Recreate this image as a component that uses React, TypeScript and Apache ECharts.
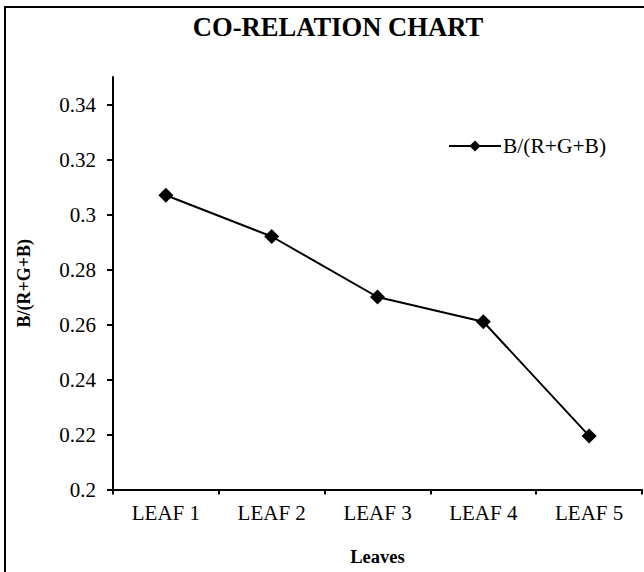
import React, { useEffect, useRef } from "react";
import * as echarts from "echarts";

const categories = ["LEAF 1", "LEAF 2", "LEAF 3", "LEAF 4", "LEAF 5"];
const seriesName = "B/(R+G+B)";
const values = [0.307, 0.292, 0.270, 0.261, 0.2195];
const yTicks = [0.2, 0.22, 0.24, 0.26, 0.28, 0.3, 0.32, 0.34];
const chartTitle = "CO-RELATION CHART";
const xAxisName = "Leaves";
const yAxisName = "B/(R+G+B)";

const FONT = "Liberation Serif";

export default function App() {
  const ref = useRef<HTMLDivElement>(null);
  useEffect(() => {
    if (!ref.current) return;
    const chart = echarts.init(ref.current, null, { renderer: "svg" });
    chart.setOption({
      animation: false,
      backgroundColor: "#ffffff",
      textStyle: { fontFamily: FONT, color: "#000" },
      graphic: [
        {
          type: "rect",
          shape: { x: 5, y: 7, width: 700, height: 700 },
          style: { fill: "none", stroke: "#000", lineWidth: 2 },
          silent: true,
        },
        {
          type: "text",
          x: 338,
          y: 27,
          style: {
            text: chartTitle,
            fontFamily: FONT,
            fontSize: 26.6,
            fontWeight: "bold",
            fill: "#000",
            textAlign: "center",
            textVerticalAlign: "middle",
          },
        },
      ],
      legend: {
        left: 448,
        top: 135,
        padding: 0,
        itemWidth: 52,
        itemHeight: 14,
        itemGap: 10,
        textStyle: { fontFamily: FONT, fontSize: 21.5, color: "#000", padding: [0, 0, 0, -3] },
        data: [{ name: seriesName }],
      },
      grid: { left: 113, top: 77, right: 2, bottom: 82.5, containLabel: false },
      xAxis: {
        type: "category",
        data: categories,
        boundaryGap: true,
        name: xAxisName,
        nameLocation: "middle",
        nameGap: 58,
        nameTextStyle: { fontFamily: FONT, fontSize: 18.5, fontWeight: "bold", color: "#000" },
        axisLine: { lineStyle: { color: "#000", width: 2 } },
        axisTick: { show: true, alignWithLabel: false, length: 5, lineStyle: { color: "#000", width: 2 } },
        axisLabel: { fontFamily: FONT, fontSize: 21, color: "#000", margin: 13 },
        splitLine: { show: false },
      },
      yAxis: {
        type: "value",
        min: 0.2,
        max: 0.35,
        interval: 0.02,
        name: yAxisName,
        nameLocation: "middle",
        nameGap: 80,
        nameTextStyle: { fontFamily: FONT, fontSize: 18, fontWeight: "bold", color: "#000" },
        axisLine: { show: true, lineStyle: { color: "#000", width: 2 } },
        axisTick: {
          show: true,
          length: 6,
          customValues: yTicks,
          lineStyle: { color: "#000", width: 2 },
        },
        axisLabel: {
          fontFamily: FONT,
          fontSize: 21,
          color: "#000",
          margin: 17,
          customValues: yTicks,
          formatter: (v: number) => String(Math.round(v * 100) / 100),
        },
        splitLine: { show: false },
      },
      series: [
        {
          name: seriesName,
          type: "line",
          data: values,
          symbol: "diamond",
          symbolSize: 15,
          itemStyle: { color: "#000" },
          lineStyle: { color: "#000", width: 2 },
        },
      ],
    });
    return () => chart.dispose();
  }, []);
  return (
    <div
      ref={ref}
      style={{ position: "absolute", left: 0, top: 0, width: 644, height: 572 }}
    />
  );
}
